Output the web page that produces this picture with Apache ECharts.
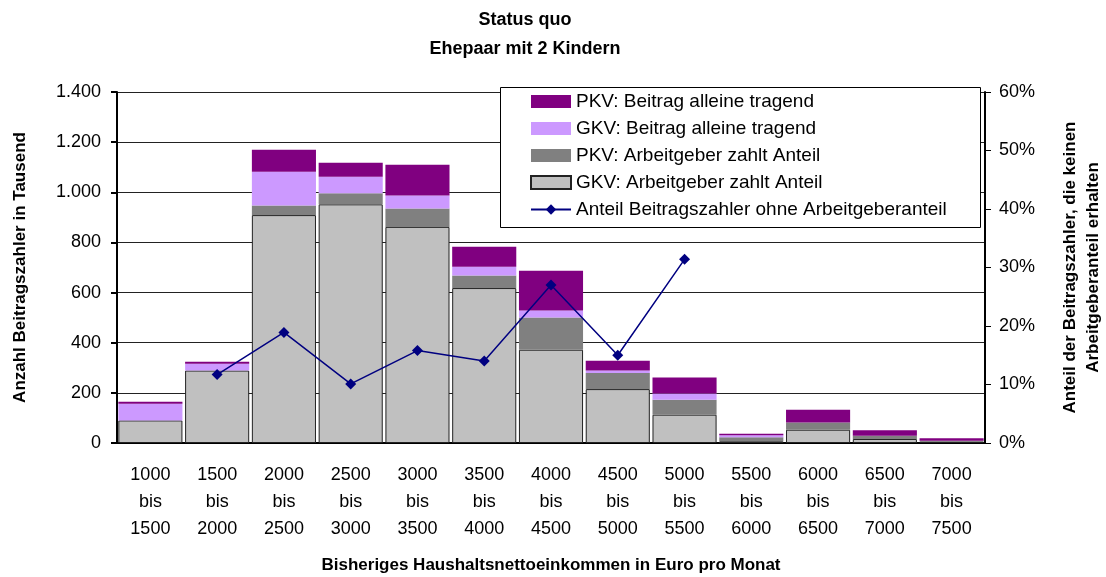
<!DOCTYPE html>
<html>
<head>
<meta charset="utf-8">
<script src="https://cdn.jsdelivr.net/npm/echarts@6/dist/echarts.min.js"></script>
<style>
html,body{margin:0;padding:0;background:#fff;}
#chart{width:1106px;height:577px;}
</style>
</head>
<body>
<div id="chart"></div>
<script>
const categories = ['1000\nbis\n1500','1500\nbis\n2000','2000\nbis\n2500','2500\nbis\n3000','3000\nbis\n3500','3500\nbis\n4000','4000\nbis\n4500','4500\nbis\n5000','5000\nbis\n5500','5500\nbis\n6000','6000\nbis\n6500','6500\nbis\n7000','7000\nbis\n7500'];
const gkvArbeitgeber = [90, 289, 909, 952, 862, 618, 372, 215, 113, 7, 53, 16, 6];
const pkvArbeitgeber = [0, 0, 38, 44, 73, 50, 129, 64, 60, 16, 29, 13, 3];
const gkvAllein = [67, 27, 135, 66, 52, 35, 27, 10, 24, 8, 0, 0, 0];
const pkvAllein = [8, 8, 88, 56, 123, 80, 159, 39, 64, 6, 51, 22, 10];
const anteilOhneAG = [null, 11.7, 18.9, 10.1, 15.8, 14.0, 27.0, 15.0, 31.4, null, null, null, null];
const leftTicks = [0, 200, 400, 600, 800, 1000, 1200, 1400];

const FONT = "'Liberation Sans', Arial, sans-serif";
const chart = echarts.init(document.getElementById('chart'), null, {renderer: 'canvas'});

function deNum(v) {
  return String(v).replace(/\B(?=(\d{3})+(?!\d))/g, '.');
}

chart.setOption({
  animation: false,
  backgroundColor: '#fff',
  textStyle: {fontFamily: FONT, color: '#000'},
  title: {
    text: 'Status quo\nEhepaar mit 2 Kindern',
    left: 520, top: 1, textAlign: 'center',
    textStyle: {fontFamily: FONT, fontSize: 18, fontWeight: 'bold', color: '#000', lineHeight: 29}
  },
  graphic: [{
    type: 'rect', left: 500, top: 87, z: 50,
    shape: {width: 480, height: 140},
    style: {fill: '#fff', stroke: '#000', lineWidth: 1}
  }],
  legend: {
    orient: 'vertical', left: 530, top: 92, z: 60, padding: 0,
    itemWidth: 40, itemHeight: 13, itemGap: 8,
    textStyle: {fontFamily: FONT, fontSize: 19, color: '#000', lineHeight: 19},
    data: [
      {name: 'PKV: Beitrag alleine tragend', icon: 'rect'},
      {name: 'GKV: Beitrag alleine tragend', icon: 'rect'},
      {name: 'PKV: Arbeitgeber zahlt Anteil', icon: 'rect'},
      {name: 'GKV: Arbeitgeber zahlt Anteil', icon: 'rect'},
      {name: 'Anteil Beitragszahler ohne Arbeitgeberanteil'}
    ]
  },
  grid: {left: 117, right: 121, top: 92, bottom: 134, containLabel: false, outerBoundsMode: 'none'},
  xAxis: {
    type: 'category', data: categories,
    name: 'Bisheriges Haushaltsnettoeinkommen in Euro pro Monat',
    nameLocation: 'middle', nameGap: 114,
    nameTextStyle: {fontFamily: FONT, fontSize: 17, fontWeight: 'bold', color: '#000'},
    axisLine: {lineStyle: {color: '#000', width: 2}},
    axisTick: {lineStyle: {color: '#000', width: 2}, length: 6},
    axisLabel: {fontFamily: FONT, fontSize: 18, color: '#000', lineHeight: 27, margin: 19}
  },
  yAxis: [{
    type: 'value', min: 0, max: 1400, interval: 200,
    name: 'Anzahl Beitragszahler in Tausend',
    nameLocation: 'middle', nameRotate: 90, nameGap: 88,
    nameTextStyle: {fontFamily: FONT, fontSize: 17, fontWeight: 'bold', color: '#000'},
    axisLine: {show: true, lineStyle: {color: '#000', width: 2}},
    axisTick: {show: true, lineStyle: {color: '#000', width: 2}, length: 6},
    axisLabel: {fontFamily: FONT, fontSize: 18, color: '#000', margin: 16, formatter: v => deNum(v)},
    splitLine: {show: true, lineStyle: {color: '#222', width: 1}}
  }, {
    type: 'value', min: 0, max: 60, interval: 10,
    name: 'Anteil der Beitragszahler, die keinen\nArbeitgeberanteil erhalten',
    nameLocation: 'middle', nameRotate: 90, nameGap: 74,
    nameTextStyle: {fontFamily: FONT, fontSize: 17, fontWeight: 'bold', color: '#000', lineHeight: 23},
    axisLine: {show: true, lineStyle: {color: '#000', width: 2}},
    axisTick: {show: true, lineStyle: {color: '#000', width: 1}, length: 6},
    axisLabel: {fontFamily: FONT, fontSize: 18, color: '#000', margin: 14, formatter: '{value}%'},
    splitLine: {show: false}
  }],
  series: [
    {name: 'GKV: Arbeitgeber zahlt Anteil', type: 'bar', stack: 'a', data: gkvArbeitgeber,
     barWidth: '96%', itemStyle: {color: '#C0C0C0', borderColor: '#222', borderWidth: 1}},
    {name: 'PKV: Arbeitgeber zahlt Anteil', type: 'bar', stack: 'a', data: pkvArbeitgeber,
     barWidth: '96%', itemStyle: {color: '#808080'}},
    {name: 'GKV: Beitrag alleine tragend', type: 'bar', stack: 'a', data: gkvAllein,
     barWidth: '96%', itemStyle: {color: '#CC99FF'}},
    {name: 'PKV: Beitrag alleine tragend', type: 'bar', stack: 'a', data: pkvAllein,
     barWidth: '96%', itemStyle: {color: '#800080'}},
    {name: 'Anteil Beitragszahler ohne Arbeitgeberanteil', type: 'line', yAxisIndex: 1,
     data: anteilOhneAG, connectNulls: false, symbol: 'diamond', symbolSize: 11,
     itemStyle: {color: '#000080'}, lineStyle: {color: '#000080', width: 1.5}, z: 10}
  ]
});
</script>
</body>
</html>
